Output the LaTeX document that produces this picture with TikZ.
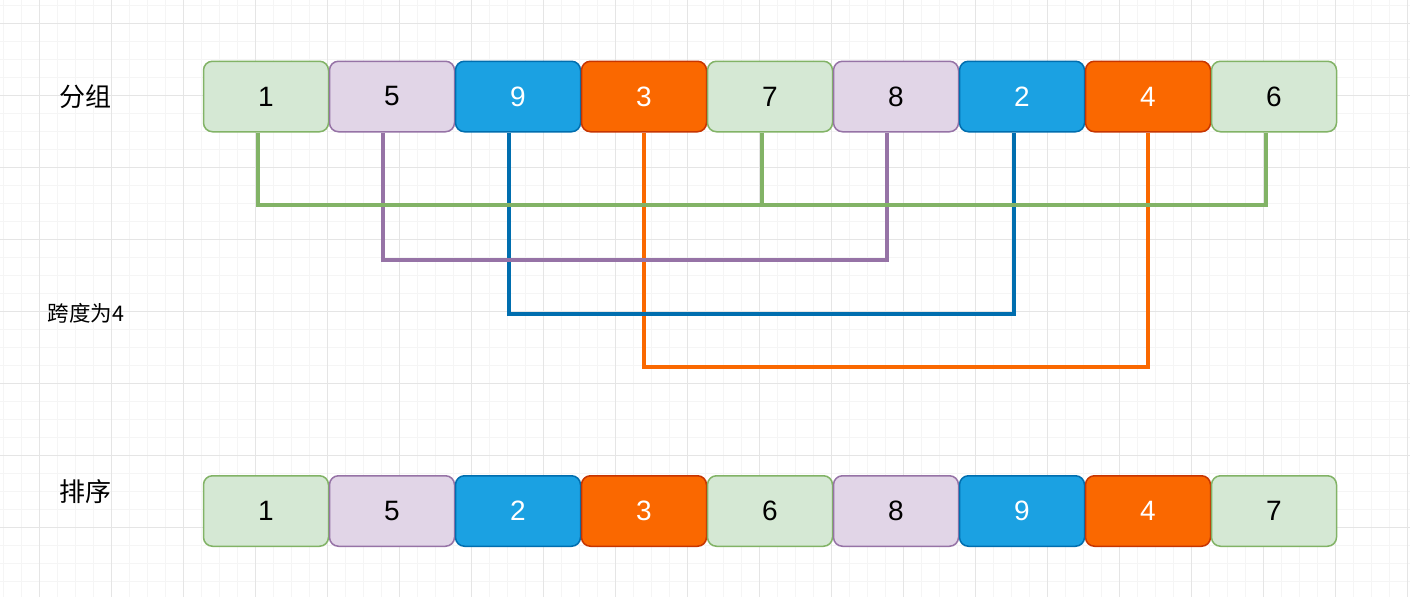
\documentclass[tikz,border=0pt]{standalone}
\usepackage{fontspec}
\setmainfont{Liberation Sans}
\newfontfamily\cjk{Noto Sans CJK SC}
\definecolor{gfill}{HTML}{D5E8D4}\definecolor{gline}{HTML}{82B366}
\definecolor{pfill}{HTML}{E1D5E7}\definecolor{pline}{HTML}{9673A6}
\definecolor{bfill}{HTML}{1BA1E2}\definecolor{bline}{HTML}{006EAF}
\definecolor{ofill}{HTML}{FA6800}\definecolor{oline}{HTML}{C73500}
\definecolor{oconn}{HTML}{FA6800}
\begin{document}
\begin{tikzpicture}[x=1pt,y=-1pt,
  cell/.style={draw,line width=1.5pt,rounded corners=9pt,minimum width=125pt,minimum height=70.5pt,inner sep=0pt,font=\fontsize{28}{28}\selectfont},
  gcell/.style={cell,fill=gfill,draw=gline,text=black},
  pcell/.style={cell,fill=pfill,draw=pline,text=black},
  bcell/.style={cell,fill=bfill,draw=bline,text=white},
  ocell/.style={cell,fill=ofill,draw=oline,text=white},
  conn/.style={line width=4pt},
  minorgrid/.style={color=black!4,line width=1pt},
  majorgrid/.style={color=black!10,line width=1pt},
  lbl/.style={font=\cjk\fontsize{26}{26}\selectfont,inner sep=0pt},
  slbl/.style={font=\cjk\fontsize{21.5}{21.5}\selectfont,inner sep=0pt}]
\useasboundingbox (0,0) rectangle (1410,597);
\fill[white] (0,0) rectangle (1410,597);
\foreach \i in {0,...,78} {\draw[minorgrid] ({3.5+18*\i},0) -- ({3.5+18*\i},597);}
\foreach \j in {0,...,33} {\draw[minorgrid] (0,{5+18*\j}) -- (1410,{5+18*\j});}
\foreach \i in {0,...,19} {\draw[majorgrid] ({39.5+72*\i},0) -- ({39.5+72*\i},597);}
\foreach \j in {0,...,7} {\draw[majorgrid] (0,{23+72*\j}) -- (1410,{23+72*\j});}
% labels
\node[lbl] (lg) at (85,97) {分组};
\node[slbl] (ls) at (86,313) {跨度为4};
\node[lbl] (lp) at (85,492) {排序};
% top row
\node[gcell] (t1) at (266,96.5) {1};
\node[pcell] (t2) at (392,96.5) {5};
\node[bcell] (t3) at (518,96.5) {9};
\node[ocell] (t4) at (644,96.5) {3};
\node[gcell] (t5) at (770,96.5) {7};
\node[pcell] (t6) at (896,96.5) {8};
\node[bcell] (t7) at (1022,96.5) {2};
\node[ocell] (t8) at (1148,96.5) {4};
\node[gcell] (t9) at (1274,96.5) {6};
% bottom row
\node[gcell] (b1) at (266,511) {1};
\node[pcell] (b2) at (392,511) {5};
\node[bcell] (b3) at (518,511) {2};
\node[ocell] (b4) at (644,511) {3};
\node[gcell] (b5) at (770,511) {6};
\node[pcell] (b6) at (896,511) {8};
\node[bcell] (b7) at (1022,511) {9};
\node[ocell] (b8) at (1148,511) {4};
\node[gcell] (b9) at (1274,511) {7};
% connectors
\draw[conn,oconn] (t4.south) -- ++(0,234) -| (t8.south);
\draw[conn,bline] ([xshift=-9pt]t3.south) -- ++(0,181) -| ([xshift=-8pt]t7.south);
\draw[conn,pline] ([xshift=-9pt]t2.south) -- ++(0,127) -| ([xshift=-9pt]t6.south);
\draw[conn,gline] ([xshift=-8pt]t1.south) -- ++(0,72) -| ([xshift=-8pt]t9.south);
\draw[conn,gline] ([xshift=-8pt]t5.south) -- ++(0,72);
\end{tikzpicture}
\end{document}
